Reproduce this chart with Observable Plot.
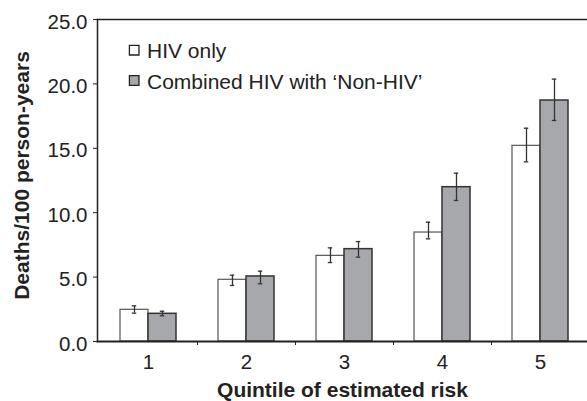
<!DOCTYPE html>
<html><head><meta charset="utf-8">
<script src="https://cdn.jsdelivr.net/npm/d3@7"></script>
<script src="https://cdn.jsdelivr.net/npm/@observablehq/plot@0.6"></script>
<style>body{margin:0;background:#fff;} svg{display:block;}</style>
</head><body><div id="chart"></div>
<script>
const quintiles = [1, 2, 3, 4, 5];
const seriesNames = ["HIV only", "Combined HIV with \u2018Non-HIV\u2019"];
const hivOnly    = [2.46, 4.79, 6.65, 8.46, 15.19];
const hivOnlyLo  = [2.2, 4.35, 6.13, 7.97, 13.95];
const hivOnlyHi  = [2.77, 5.15, 7.27, 9.26, 16.56];
const combined   = [2.15, 5.05, 7.17, 11.98, 18.71];
const combinedLo = [2.0, 4.48, 6.55, 10.95, 17.16];
const combinedHi = [2.35, 5.46, 7.76, 13.07, 20.37];
const yTicks = [0, 5, 10, 15, 20, 25];
const fills = ["#ffffff", "#a7a8ab"];
const strokes = ["#555555", "#333333"];

const barW = 28 / 98; // fraction of a category step
const rows = [];
quintiles.forEach((q, i) => {
  rows.push({q, s: 0, v: hivOnly[i], lo: hivOnlyLo[i], hi: hivOnlyHi[i], x1: q - barW, x2: q});
  rows.push({q, s: 1, v: combined[i], lo: combinedLo[i], hi: combinedHi[i], x1: q, x2: q + barW});
});
rows.forEach(d => d.c = (d.x1 + d.x2) / 2);
const capHalf = 2.2 / 98;
const font = "Liberation Sans, Arial, Helvetica, sans-serif";
const FS = 20.5;

const legendMarks = seriesNames.flatMap((name, i) => [
  Plot.dot([name], {frameAnchor: "top-left", dx: 36.7, dy: 30.7 + i * 30.3, symbol: "square", r: 5.4, fill: fills[i], stroke: "#222", strokeWidth: 1.3}),
  Plot.text([name], {frameAnchor: "top-left", lineAnchor: "middle", dx: 49.5, dy: 31.5 + i * 31, textAnchor: "start", fontSize: 21, fill: "#222"})
]);

const chart = Plot.plot({
  width: 587, height: 401,
  marginLeft: 97, marginRight: 0, marginTop: 19, marginBottom: 60,
  style: {fontFamily: font, fontSize: FS + "px", color: "#222", background: "#fff"},
  x: {type: "linear", domain: [0.5, 5.5], range: [99, 589]},
  y: {domain: [0, 25], range: [341, 19]},
  marks: [
    Plot.rect(rows, {x1: "x1", x2: "x2", y1: 0, y2: "v", fill: d => fills[d.s], stroke: d => strokes[d.s], strokeWidth: d => d.s ? 1.5 : 1.2}),
    Plot.ruleX(rows, {x: "c", y1: "lo", y2: "hi", stroke: "#333", strokeWidth: 1.3}),
    Plot.ruleY(rows, {y: "lo", x1: d => d.c - capHalf, x2: d => d.c + capHalf, stroke: "#333", strokeWidth: 1.3}),
    Plot.ruleY(rows, {y: "hi", x1: d => d.c - capHalf, x2: d => d.c + capHalf, stroke: "#333", strokeWidth: 1.3}),
    Plot.frame({anchor: "left", stroke: "#222", strokeWidth: 1.5}),
    Plot.frame({anchor: "top", stroke: "#222", strokeWidth: 1.5}),
    Plot.frame({anchor: "bottom", stroke: "#222", strokeWidth: 1.8}),
    Plot.axisY({ticks: yTicks, text: null, tickSize: 4, label: null, stroke: "#222"}),
    Plot.axisY({ticks: yTicks, tickFormat: d3.format(".1f"), tickSize: 0, tickPadding: 10, dy: 2.5, fontSize: FS, label: null}),
    Plot.axisX({ticks: [1.5, 2.5, 3.5, 4.5], text: null, tickSize: 4, label: null, stroke: "#222"}),
    Plot.axisX({ticks: quintiles, tickFormat: d3.format("d"), tickSize: 0, tickPadding: 13, fontSize: FS, label: null}),
    Plot.text(["Deaths/100 person-years"], {frameAnchor: "left", textAnchor: "middle", lineAnchor: "middle", dx: -75, dy: -5, rotate: -90, fontWeight: "bold", fontSize: 21, fill: "#222"}),
    Plot.text(["Quintile of estimated risk"], {frameAnchor: "bottom", textAnchor: "middle", lineAnchor: "middle", dx: 0, dy: 48.5, fontWeight: "bold", fontSize: 21, fill: "#222"}),
    ...legendMarks
  ]
});
document.getElementById("chart").appendChild(chart);
</script></body></html>
